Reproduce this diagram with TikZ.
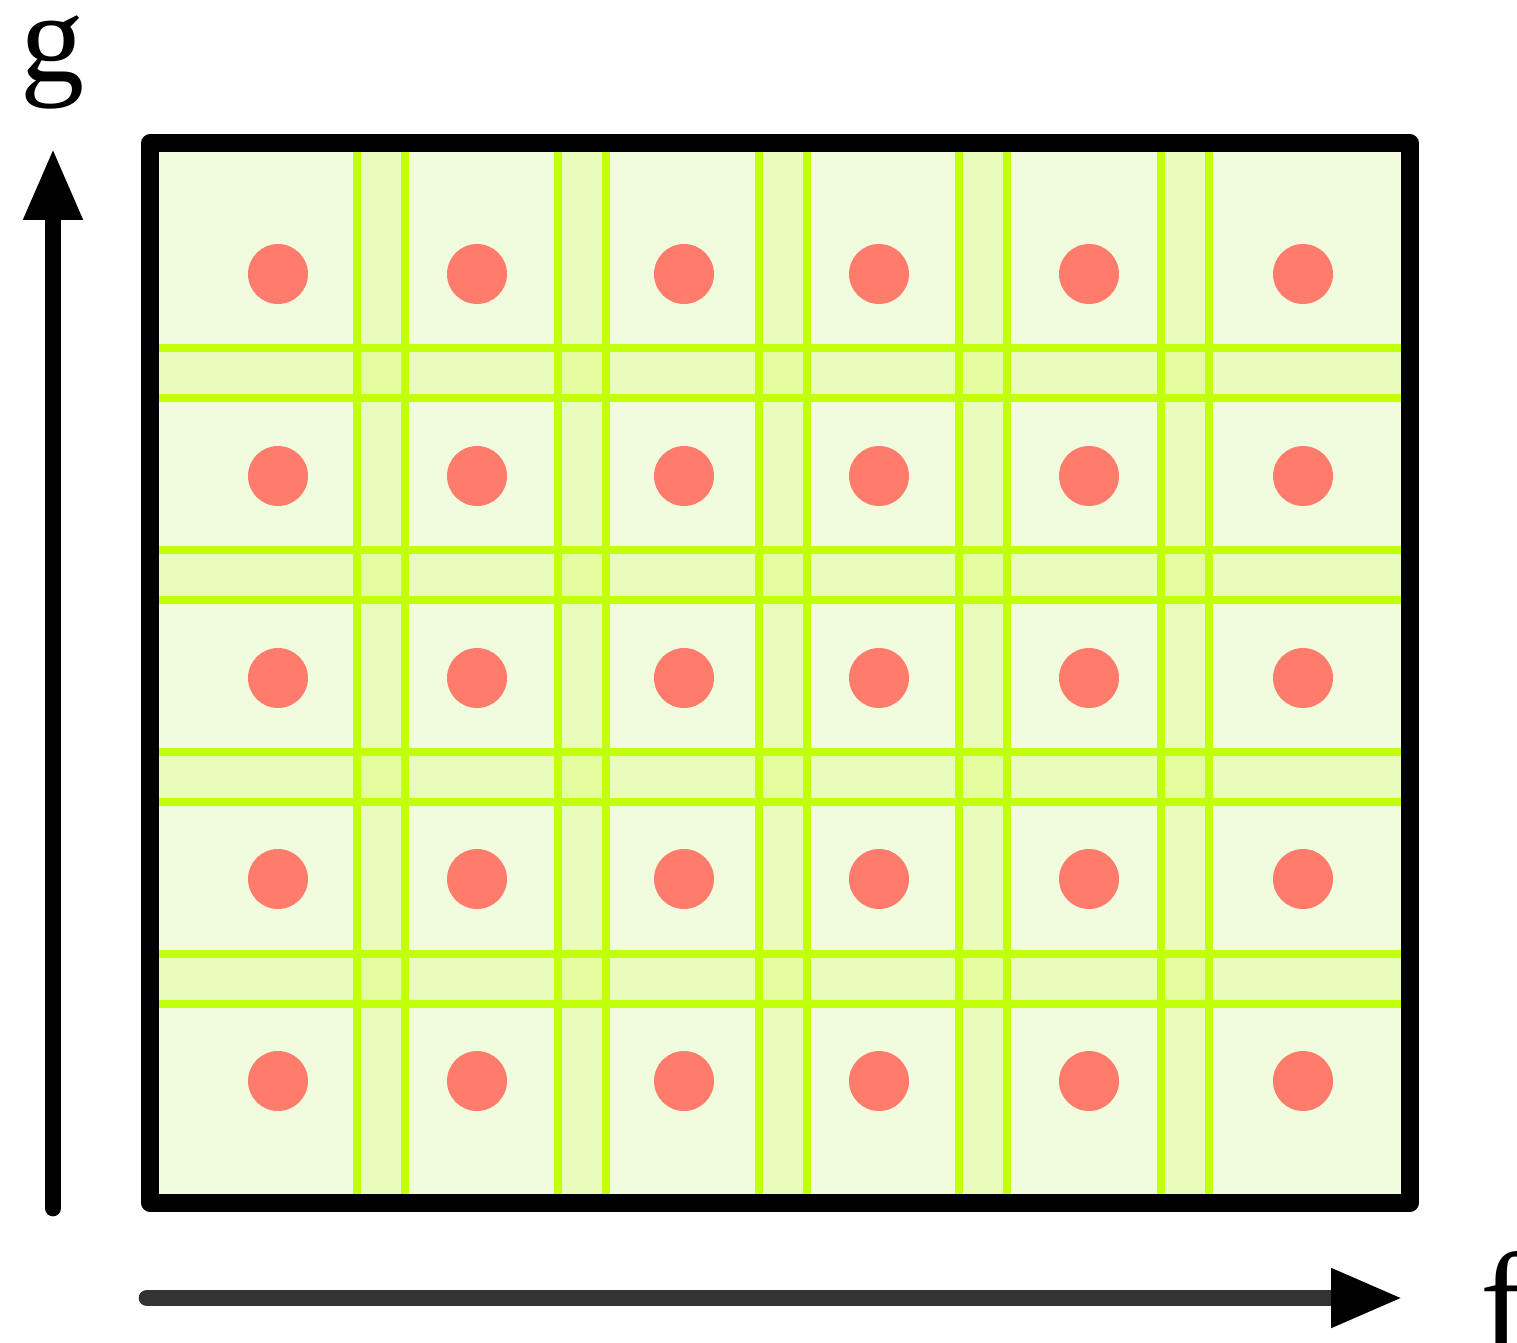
\documentclass[tikz,border=0pt]{standalone}
\usepackage{tikz}
\usepackage{fontspec}
\setmainfont{Liberation Serif}
\usetikzlibrary{arrows.meta, positioning}

\definecolor{cellbg}{HTML}{F1FCDE}
\definecolor{gridline}{HTML}{C2FF0A}
\definecolor{dotred}{HTML}{FF7B6B}

\begin{document}
\begin{tikzpicture}[x=0.02cm, y=-0.02cm,
    axisarrow/.style={line width=9.5pt, line cap=round, -{Triangle[length=1.44cm, width=1.1cm, color=black]}},
    band/.style={gridline, opacity=0.16, line width=1cm},
    gline/.style={gridline, line width=4.5pt},
    sample/.style={circle, fill=dotred, minimum size=1.2cm, inner sep=0pt},
    frame/.style={draw, line width=10pt, line join=round, minimum width=25.2cm, minimum height=21.2cm, inner sep=0pt},
    axislabel/.style={inner sep=0pt, font=\fontsize{73}{73}\selectfont}
]
\useasboundingbox (0,0) rectangle (1517,1342);

% background of the grid
\fill[cellbg] (150,143) rectangle (1410,1203);

% bands between the double lines
\foreach \cx in {381,582,783,983,1185}
    \draw[band] (\cx,152) -- (\cx,1194);
\foreach \cy in {373,575,777,979}
    \draw[band] (159,\cy) -- (1401,\cy);

% double grid lines
\foreach \cx in {381,582,783,983,1185} {
    \draw[gline] (\cx-24,152) -- (\cx-24,1194);
    \draw[gline] (\cx+24,152) -- (\cx+24,1194);
}
\foreach \cy in {373,575,777,979} {
    \draw[gline] (159,\cy-25) -- (1401,\cy-25);
    \draw[gline] (159,\cy+25) -- (1401,\cy+25);
}

% sample points
\foreach \px [count=\i] in {278,477,684,879,1089,1303}
    \foreach \py [count=\j] in {274,476,678,879,1081}
        \node[sample] (s\i\j) at (\px,\py) {};

\node[frame] (grid) at (780,673) {};

% axes
\coordinate (gtail) at (53,1208);
\coordinate (ghead) at (53,148);
\coordinate (ftail) at (147,1298);
\coordinate (fhead) at (1403,1298);
\draw[axisarrow] (gtail) -- (ghead);
\draw[axisarrow, draw=black!80] (ftail) -- (fhead);

\node[axislabel, anchor=base] (glabel) at (53,81) {g};
\node[axislabel, anchor=base west, font=\fontsize{80}{80}\selectfont] (flabel) at (1480,1350) {f};
\end{tikzpicture}
\end{document}
